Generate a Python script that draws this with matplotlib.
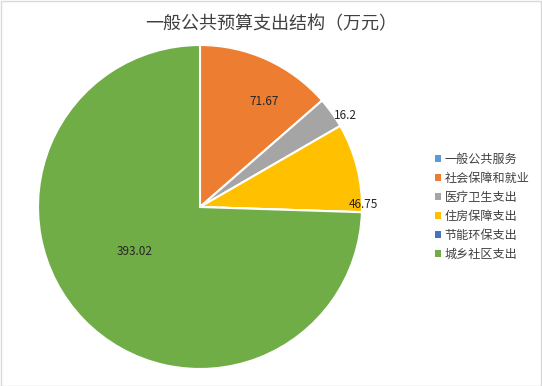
import matplotlib
matplotlib.use("Agg")
import matplotlib.pyplot as plt
import numpy as np
from matplotlib.patches import Rectangle

plt.rcParams['font.family'] = ['Noto Sans CJK SC', 'DejaVu Sans']

# data
categories = ['一般公共服务', '社会保障和就业', '医疗卫生支出', '住房保障支出', '节能环保支出', '城乡社区支出']
values = [0, 71.67, 16.2, 46.75, 0, 393.02]
value_labels = ['', '71.67', '16.2', '46.75', '', '393.02']
colors = ['#5B9BD5', '#ED7D31', '#A5A5A5', '#FFC000', '#4472C4', '#70AD47']
title = '一般公共预算支出结构（万元）'

fig = plt.figure(figsize=(5.42, 3.86), dpi=100)
# thin grey border like the exported chart area
fig.patches.append(Rectangle((0.001, 0.001), 0.998, 0.997, transform=fig.transFigure,
                             fill=False, edgecolor='#D9D9D9', linewidth=1))

ax = fig.add_axes([38 / 542, 17 / 386, 324 / 542, 324 / 386])
wedges, _ = ax.pie(values, colors=colors, startangle=90, counterclock=False,
                   wedgeprops=dict(edgecolor='white', linewidth=1.5))
for w in wedges:
    w.set_clip_on(False)
ax.set_xlim(-1, 1)
ax.set_ylim(-1, 1)
ax.set_aspect('equal')

# data labels, placed roughly like Excel's "best fit"
# (radius fraction, position along the wedge 0..1)
label_pos = [None, (0.765, 0.64), (1.06, 0.82), (1.01, 0.92), None, (0.49, 0.537)]
total = sum(values)
start = 90.0
for v, txt, pos in zip(values, value_labels, label_pos):
    sweep = v / total * 360
    if pos is not None and txt:
        r, frac = pos
        ang = np.deg2rad(start - sweep * frac)
        ax.text(r * np.cos(ang), r * np.sin(ang), txt, ha='center', va='center',
                fontsize=8.5, color='#262626')
    start -= sweep

fig.text(0.5, 0.937, title, ha='center', va='center', fontsize=13, color='#404040')

handles = [Rectangle((0, 0), 1, 1, facecolor=c) for c in colors]
fig.legend(handles, categories, loc='center left', bbox_to_anchor=(0.782, 0.464),
           frameon=False, fontsize=8.7, handlelength=0.5, handleheight=0.5,
           handletextpad=0.3, labelspacing=0.5, labelcolor='#404040')

fig.savefig('out.png', dpi=100)
